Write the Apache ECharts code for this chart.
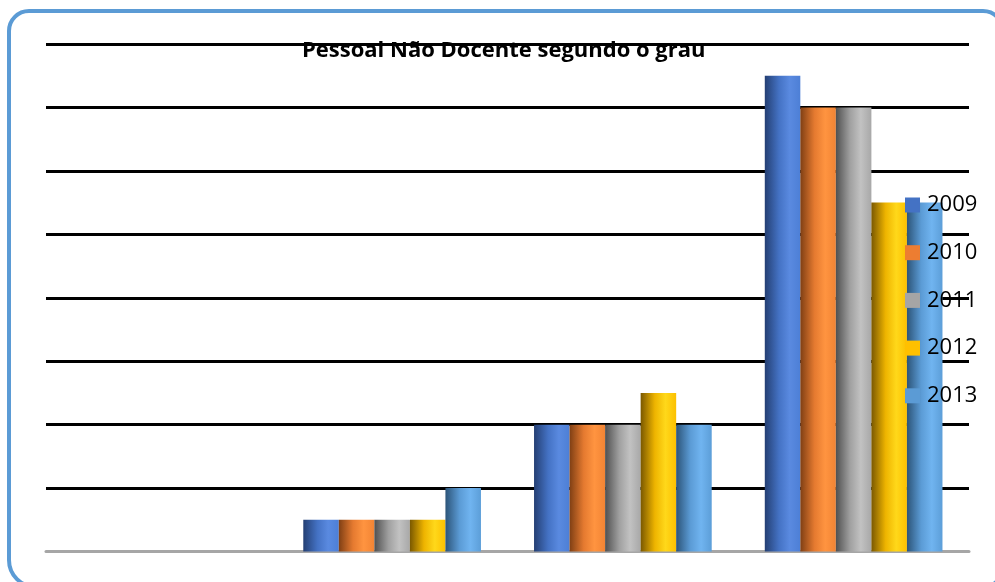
<!DOCTYPE html>
<html>
<head>
<meta charset="utf-8">
<script src="https://cdn.jsdelivr.net/npm/echarts@6/dist/echarts.min.js"></script>
<style>
  html, body { margin: 0; padding: 0; background: #fff; overflow: hidden; }
  #chart { position: absolute; left: 0; top: 0; width: 995px; height: 582px; }
  .frame {
    position: absolute; left: 7px; top: 9px; width: 998px; height: 580px;
    box-sizing: border-box; border: 4px solid #5b9bd5; border-radius: 22px 22px 22px 29px;
    pointer-events: none;
  }
</style>
</head>
<body>
<div id="chart"></div>
<div class="frame"></div>
<script>
const categories = ['Grau 1', 'Grau 2', 'Grau 3', 'Grau 4']
const years = ['2009', '2010', '2011', '2012', '2013']
const values2009 = [0, 1, 4, 15]
const values2010 = [0, 1, 4, 14]
const values2011 = [0, 1, 4, 14]
const values2012 = [0, 1, 5, 11]
const values2013 = [0, 2, 4, 11]
const seriesValues = [values2009, values2010, values2011, values2012, values2013]

// flat colour, then dark / base / light / edge for the cylinder shading
const baseColors = ['#4472c4', '#ed7d31', '#a5a5a5', '#ffc000', '#5b9bd5']
const shades = [
  ['#243f73', '#4472c4', '#5a8ae0', '#4d7fd6'],
  ['#7f3f14', '#e57a30', '#ff9440', '#f28434'],
  ['#505050', '#a0a0a0', '#c2c2c2', '#a8a8a8'],
  ['#7a5800', '#eeb400', '#ffd81a', '#fcc000'],
  ['#2c5478', '#5b9bd5', '#70b4f0', '#5c9ed8']
]

const gradient = (s) => new echarts.graphic.LinearGradient(0, 0, 1, 0, [
  { offset: 0, color: s[0] },
  { offset: 0.4, color: s[1] },
  { offset: 0.7, color: s[2] },
  { offset: 1, color: s[3] }
])

const chart = echarts.init(document.getElementById('chart'))
const option = {
  animation: false,
  title: {
    text: 'Pessoal Não Docente segundo o grau',
    left: 302,
    top: 40,
    padding: 0,
    textStyle: { fontFamily: 'Open Sans', fontWeight: 'bold', fontSize: 22, color: '#000' }
  },
  legend: {
    orient: 'vertical',
    left: 905,
    top: 194,
    itemWidth: 15,
    itemHeight: 15,
    itemGap: 25.7,
    icon: 'rect',
    padding: 0,
    textStyle: { fontFamily: 'Open Sans', fontSize: 22, color: '#000', lineHeight: 22, padding: [0, 0, 0, 2] },
    data: years.map((y, i) => ({ name: y, itemStyle: { color: baseColors[i] } }))
  },
  grid: { left: 46, right: 26, top: 44, bottom: 30.5 },
  xAxis: {
    type: 'category',
    data: categories,
    axisLine: { lineStyle: { color: '#a6a6a6', width: 3 } },
    axisTick: { show: false },
    axisLabel: { show: false }
  },
  yAxis: {
    type: 'value',
    min: 0,
    max: 16,
    interval: 2,
    axisLine: { show: false },
    axisTick: { show: false },
    axisLabel: { show: false },
    splitLine: { lineStyle: { color: '#000', width: 3 } }
  },
  series: years.map((y, i) => ({
    name: y,
    type: 'bar',
    barGap: 0,
    barCategoryGap: '23%',
    itemStyle: { color: gradient(shades[i]) },
    data: seriesValues[i]
  }))
}
chart.setOption(option)
</script>
</body>
</html>
